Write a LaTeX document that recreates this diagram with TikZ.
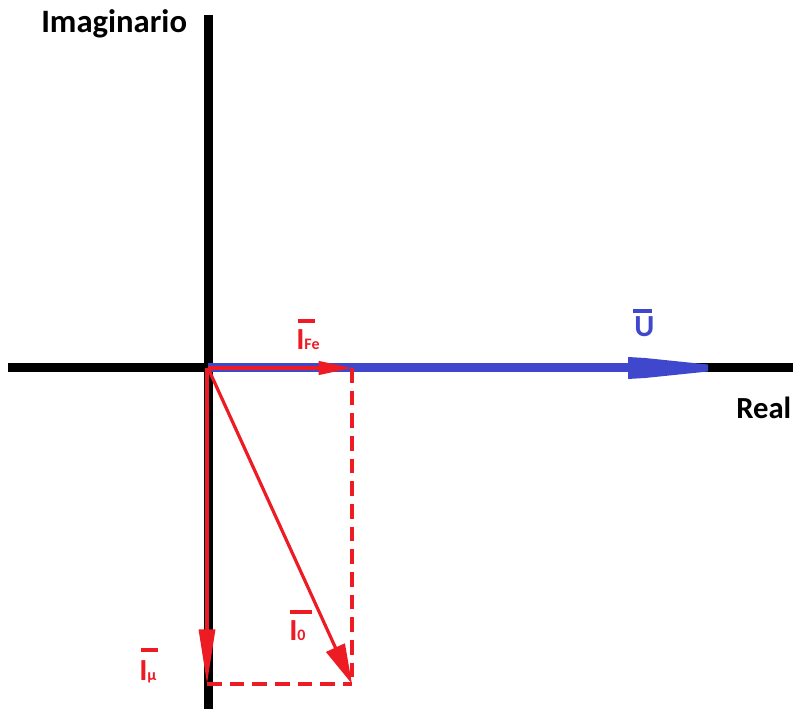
\documentclass[tikz,border=0pt]{standalone}
\usepackage{fontspec}
\setmainfont{Carlito}
\usetikzlibrary{arrows.meta}
\definecolor{pred}{HTML}{ED1C24}
\definecolor{pblue}{HTML}{3F48CC}
\tikzset{
  axis/.style={line width=6.75pt, black},
  vec/.style={line width=2.4pt, pred},
  dash box/.style={line width=2.4pt, pred, dash pattern=on 11pt off 6pt},
  bar/.style={line width=2.3pt},
  axlabel/.style={anchor=base west, inner sep=0pt, font=\fontsize{23}{23}\selectfont\bfseries},
  veclabel/.style={anchor=base west, inner sep=0pt, text=pred},
}
\newcommand{\bigI}{{\fontsize{23}{23}\selectfont\bfseries I}}
\newcommand{\smallsub}[1]{{\fontsize{12}{12}\selectfont\bfseries #1}}
\begin{document}
\begin{tikzpicture}[x=0.75pt, y=-0.75pt]
\useasboundingbox (0,0) rectangle (793,709);
% coordinates
\coordinate (O) at (208,368);
\coordinate (Fe) at (352,368);
\coordinate (Mu) at (207,684);
\coordinate (I0) at (352,684);
\coordinate (Ub) at (628,368);
\coordinate (Xl) at (8,368);
\coordinate (Xr) at (793,368);
\coordinate (Yt) at (208.5,15);
\coordinate (Yb) at (208.5,709);
% axes
\draw[axis] (Xl) -- (Xr);
\draw[axis] (Yt) -- (Yb);
% U vector
\draw[line width=6.75pt, pblue] (O) -- (Ub);
\fill[pblue] (628,357) -- (645,358) -- (708,364.5) -- (708,371.5) -- (645,378) -- (628,379) -- cycle;
% dashed projections
\draw[dash box] (Fe) -- (I0);
\draw[dash box] (Mu) -- (I0);
% red vectors
\draw[vec, -{Triangle[length=25pt, width=10pt]}] (O) -- (Fe);
\draw[vec, -{Triangle[length=41pt, width=12pt]}] (207,368) -- (Mu);
\draw[vec, -{Triangle[length=30pt, width=15pt]}] (O) -- (I0);
% axis labels
\node[axlabel, font=\fontsize{24.5}{24.5}\selectfont\bfseries] (imag) at (41,33) {Imaginario};
\node[axlabel] (real) at (736,418) {Real};
% vector labels
\node[anchor=base west, inner sep=0pt, text=pblue, font=\fontsize{23}{23}\selectfont\bfseries] (ulab) at (634,337) {U};
\draw[bar, pblue] (633,311) -- (652,311);
\node[veclabel] (ifelab) at (296,350) {\bigI\smallsub{Fe}};
\draw[bar, pred] (298,321) -- (315,321);
\node[veclabel] (i0lab) at (289,640) {\bigI\smallsub{0}};
\draw[bar, pred] (290,612) -- (312,612);
\node[veclabel] (imulab) at (139,680) {\bigI\smallsub{µ}};
\draw[bar, pred] (141,650) -- (158,650);
\end{tikzpicture}
\end{document}
